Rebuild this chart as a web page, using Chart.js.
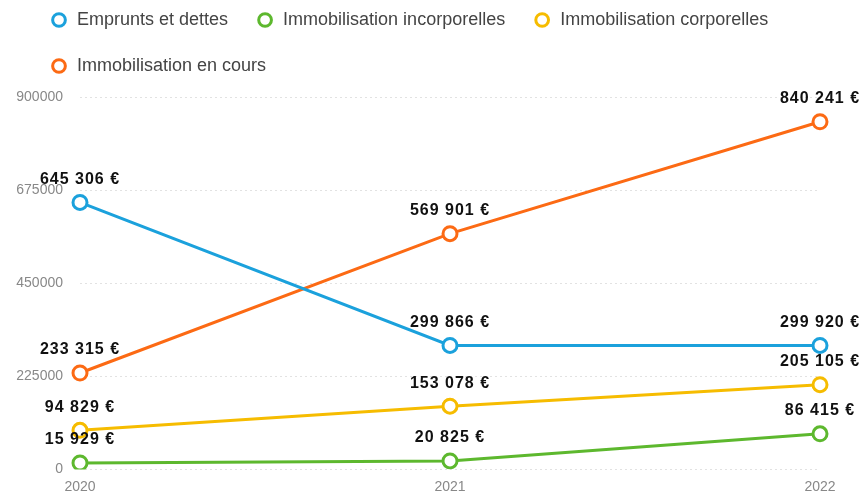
<!DOCTYPE html>
<html>
<head>
<meta charset="utf-8">
<script src="https://cdn.jsdelivr.net/npm/chart.js@4"></script>
<style>
    html, body { margin: 0; padding: 0; background: #fff; }
    .chart-wrap { width: 863px; height: 495px; }
</style>
</head>
<body>
<div class="chart-wrap"><canvas id="bilan-chart"></canvas></div>
<script>
const years = ['2020', '2021', '2022'];
const emprunts = [645306, 299866, 299920];
const incorporelles = [15929, 20825, 86415];
const corporelles = [94829, 153078, 205105];
const enCours = [233315, 569901, 840241];
const yTicks = [0, 225000, 450000, 675000, 900000];

const FONT = '"Liberation Sans", Arial, sans-serif';
const fmtEuro = v => String(v).replace(/\B(?=(\d{3})+(?!\d))/g, ' ') + ' €';

// draws the value above each point
const valueLabels = {
    id: 'valueLabels',
    afterDatasetsDraw(chart) {
        const ctx = chart.ctx;
        ctx.save();
        ctx.font = 'bold 16px ' + FONT;
        if ('letterSpacing' in ctx) ctx.letterSpacing = '1px';
        ctx.textAlign = 'center';
        ctx.textBaseline = 'bottom';
        ctx.fillStyle = '#111';
        chart.data.datasets.forEach((ds, i) => {
            chart.getDatasetMeta(i).data.forEach((pt, j) => {
                ctx.fillText(fmtEuro(ds.data[j]), pt.x, pt.y - 15);
            });
        });
        ctx.restore();
    }
};

// legend: more room below it, and nudged right
const legendTweak = {
    id: 'legendTweak',
    beforeInit(chart) {
        const legend = chart.legend;
        const fit = legend.fit;
        const draw = legend.draw;
        legend.fit = function () {
            fit.call(this);
            this.height += 12;
        };
        legend.draw = function () {
            this.ctx.save();
            this.ctx.translate(14, 0);
            draw.call(this);
            this.ctx.restore();
        };
    }
};

const line = (label, data, color) => ({
    label, data,
    borderColor: color,
    backgroundColor: '#fff',
    borderWidth: 3,
    pointRadius: 7,
    pointHoverRadius: 7,
    pointBorderWidth: 3,
    pointBackgroundColor: '#fff',
    pointBorderColor: color,
    tension: 0
});

new Chart(document.getElementById('bilan-chart'), {
    type: 'line',
    data: {
        labels: years,
        datasets: [
            line('Emprunts et dettes', emprunts, '#1ba1dc'),
            line('Immobilisation incorporelles', incorporelles, '#5db82e'),
            line('Immobilisation corporelles', corporelles, '#f6bc00'),
            line('Immobilisation en cours', enCours, '#fc6a14')
        ]
    },
    options: {
        responsive: true,
        maintainAspectRatio: false,
        animation: false,
        layout: { padding: { left: 8, right: 43, top: -17, bottom: 0 } },
        plugins: {
            tooltip: { enabled: false },
            legend: {
                position: 'top',
                align: 'start',
                labels: {
                    usePointStyle: true,
                    pointStyle: 'circle',
                    boxWidth: 18,
                    boxHeight: 9,
                    padding: 28,
                    color: '#444',
                    font: { size: 18, family: FONT }
                }
            }
        },
        scales: {
            y: {
                min: 0,
                max: 900000,
                afterBuildTicks: axis => { axis.ticks = yTicks.map(v => ({ value: v })); },
                afterFit: axis => { axis.width = 72; },
                border: { display: false, dash: [2, 3] },
                grid: { color: '#e2e2e2', drawTicks: false, lineWidth: 1 },
                ticks: {
                    padding: 17,
                    color: '#888',
                    callback: v => String(v),
                    font: { size: 14, family: FONT }
                }
            },
            x: {
                offset: false,
                afterFit: axis => { axis.height = 23; },
                border: { display: false },
                grid: { display: false, drawTicks: false },
                ticks: {
                    padding: 9,
                    color: '#888',
                    font: { size: 14, family: FONT }
                }
            }
        }
    },
    plugins: [valueLabels, legendTweak]
});
</script>
</body>
</html>
